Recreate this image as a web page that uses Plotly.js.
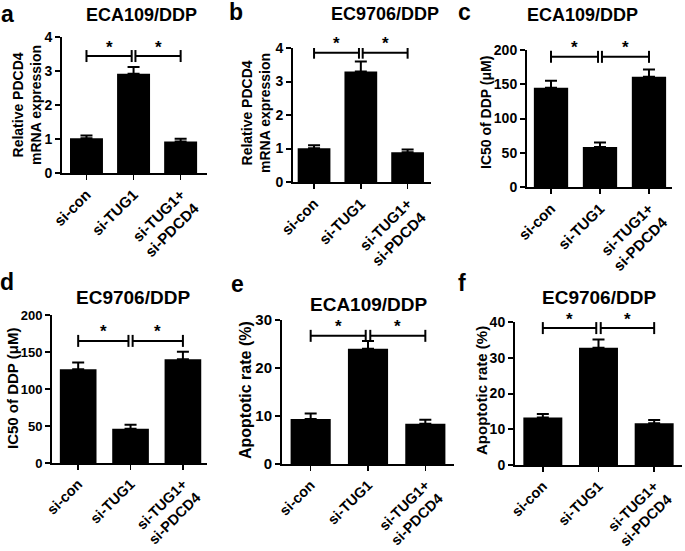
<!DOCTYPE html>
<html>
<head>
<meta charset="utf-8">
<script src="https://cdn.plot.ly/plotly-3.0.1.min.js"></script>
<style>
  html, body { margin: 0; padding: 0; background: #fff; }
  #chart { width: 685px; height: 551px; }
</style>
</head>
<body>
<div id="chart"></div>
<script>
// groups on every x axis
const groups = ['si-con', 'si-TUG1', 'si-TUG1+<br>si-PDCD4'];

// a: relative PDCD4 mRNA, ECA109/DDP
const mrnaEca = [1.02, 2.92, 0.93];
const mrnaEcaErr = [0.08, 0.2, 0.08];
// b: relative PDCD4 mRNA, EC9706/DDP
const mrnaEc = [1.01, 3.3, 0.89];
const mrnaEcErr = [0.09, 0.3, 0.08];
// c: IC50 of DDP, ECA109/DDP
const ic50Eca = [145, 58.5, 161];
const ic50EcaErr = [10, 6.5, 10.5];
// d: IC50 of DDP, EC9706/DDP
const ic50Ec = [126.8, 46.3, 140.3];
const ic50EcErr = [9, 5.3, 10];
// e: apoptotic rate, ECA109/DDP
const apoEca = [9.4, 24.0, 8.4];
const apoEcaErr = [1.1, 1.6, 0.8];
// f: apoptotic rate, EC9706/DDP
const apoEc = [13.3, 32.8, 11.7];
const apoEcErr = [1.0, 2.3, 0.9];

// height of the significance brackets (in each panel's y units)
const bracketLevels = [3.44, 3.86, 190, 165, 26.7, 38.3];
const yMaxes = [4, 4, 200, 200, 30, 40];
const yDticks = [1, 1, 50, 50, 10, 10];

const W = 685, H = 551;
const FONT = 'Liberation Sans, Arial, sans-serif';
const px = (x) => x / W;
const py = (y) => 1 - y / H;

const panels = [
    {letter: 'a', title: 'ECA109/DDP', ytitle: 'Relative PDCD4<br>mRNA expression',
     vals: mrnaEca, errs: mrnaEcaErr, box: [62, 207, 37, 173], xr: [-0.52, 2.56],
     titleAt: [141, 15], letterAt: [8, 14], ytitleAt: [27, 105], ytSize: 14, tickSize: 14, titleSize: 18, xSize: 15},
    {letter: 'b', title: 'EC9706/DDP', ytitle: 'Relative PDCD4<br>mRNA expression',
     vals: mrnaEc, errs: mrnaEcErr, box: [293, 431, 48, 182], xr: [-0.45, 2.5],
     titleAt: [385, 14], letterAt: [236, 12], ytitleAt: [256, 113], ytSize: 14, tickSize: 14, titleSize: 18, xSize: 15},
    {letter: 'c', title: 'ECA109/DDP', ytitle: 'IC50 of DDP (μM)',
     vals: ic50Eca, errs: ic50EcaErr, box: [527, 672, 50, 187], xr: [-0.49, 2.47],
     titleAt: [582, 15], letterAt: [464, 12], ytitleAt: [486, 112], ytSize: 14, tickSize: 14, titleSize: 18, xSize: 15},
    {letter: 'd', title: 'EC9706/DDP', ytitle: 'IC50 of DDP (μM)',
     vals: ic50Ec, errs: ic50EcErr, box: [52, 207, 315, 463], xr: [-0.5, 2.46],
     titleAt: [133, 297], letterAt: [7, 282], ytitleAt: [12, 389], ytSize: 15, tickSize: 13, titleSize: 19, xSize: 14.5},
    {letter: 'e', title: 'ECA109/DDP', ytitle: 'Apoptotic rate (%)',
     vals: apoEca, errs: apoEcaErr, box: [282, 454, 320, 464], xr: [-0.5, 2.5],
     titleAt: [369, 304], letterAt: [237, 284], ytitleAt: [245, 390], ytSize: 16, tickSize: 15, titleSize: 19, xSize: 14.5},
    {letter: 'f', title: 'EC9706/DDP', ytitle: 'Apoptotic rate (%)',
     vals: apoEc, errs: apoEcErr, box: [515, 682, 322, 465], xr: [-0.5, 2.5],
     titleAt: [599, 297], letterAt: [462, 283], ytitleAt: [481, 391], ytSize: 15, tickSize: 14, titleSize: 19, xSize: 14.5}
];

const traces = [];
const shapes = [];
const annotations = [];
const layout = {
    width: W,
    height: H,
    margin: {l: 0, r: 0, t: 0, b: 0},
    paper_bgcolor: '#fff',
    plot_bgcolor: 'rgba(0,0,0,0)',
    showlegend: false,
    font: {family: FONT, color: '#000', weight: 'bold'}
};

panels.forEach((p, i) => {
    const n = i === 0 ? '' : String(i + 1);
    const xa = 'x' + n, ya = 'y' + n;

    traces.push({
        type: 'bar',
        x: groups,
        y: p.vals,
        xaxis: xa,
        yaxis: ya,
        width: 0.7,
        marker: {color: '#000'},
        error_y: {
            type: 'data',
            symmetric: false,
            array: p.errs,
            arrayminus: p.errs.map(() => 0),
            color: '#000',
            thickness: 2,
            width: 6
        },
        hoverinfo: 'skip'
    });

    layout['xaxis' + n] = {
        domain: [px(p.box[0]), px(p.box[1])],
        anchor: ya,
        type: 'category',
        range: p.xr,
        showline: true,
        linecolor: '#000',
        linewidth: 2,
        ticks: 'outside',
        ticklen: 5,
        tickwidth: 1.5,
        tickcolor: '#000',
        tickangle: -45,
        tickfont: {family: FONT, size: p.xSize, color: '#000', weight: 'bold'},
        showgrid: false,
        zeroline: false,
        fixedrange: true
    };
    layout['yaxis' + n] = {
        domain: [py(p.box[3]), py(p.box[2])],
        anchor: xa,
        range: [0, yMaxes[i]],
        dtick: yDticks[i],
        showline: true,
        linecolor: '#000',
        linewidth: 2,
        ticks: 'outside',
        ticklen: 5,
        tickwidth: 2,
        tickcolor: '#000',
        tickfont: {family: FONT, size: p.tickSize, color: '#000', weight: 'bold'},
        showgrid: false,
        zeroline: false,
        fixedrange: true
    };

    // significance brackets: si-con vs si-TUG1, si-TUG1 vs si-TUG1+si-PDCD4
    const lvl = bracketLevels[i];
    [[0, 0.96], [1.04, 2]].forEach(([a, b]) => {
        const line = {color: '#000', width: 2};
        shapes.push({type: 'line', xref: xa, yref: ya, x0: a, x1: b, y0: lvl, y1: lvl, line: line});
        [a, b].forEach((e) => {
            shapes.push({type: 'line', xref: xa, yref: ya, x0: e, x1: e,
                ysizemode: 'pixel', yanchor: lvl, y0: -6, y1: 6, line: line});
        });
        annotations.push({xref: xa, yref: ya, x: (a + b) / 2, y: lvl, yshift: 9,
            text: '*', showarrow: false,
            font: {family: FONT, size: 17, color: '#000', weight: 'bold'}});
    });

    annotations.push({xref: 'paper', yref: 'paper', x: px(p.titleAt[0]), y: py(p.titleAt[1]),
        xanchor: 'center', yanchor: 'middle', text: p.title, showarrow: false,
        font: {family: FONT, size: p.titleSize, color: '#000', weight: 'bold'}});
    annotations.push({xref: 'paper', yref: 'paper', x: px(p.letterAt[0]), y: py(p.letterAt[1]),
        xanchor: 'center', yanchor: 'middle', text: p.letter, showarrow: false,
        font: {family: FONT, size: 23, color: '#000', weight: 'bold'}});
    annotations.push({xref: 'paper', yref: 'paper', x: px(p.ytitleAt[0]), y: py(p.ytitleAt[1]),
        xanchor: 'center', yanchor: 'middle', textangle: -90, text: p.ytitle, showarrow: false,
        font: {family: FONT, size: p.ytSize, color: '#000', weight: 'bold'}});
});

layout.shapes = shapes;
layout.annotations = annotations;

Plotly.newPlot('chart', traces, layout, {displayModeBar: false, staticPlot: true});
</script>
</body>
</html>
